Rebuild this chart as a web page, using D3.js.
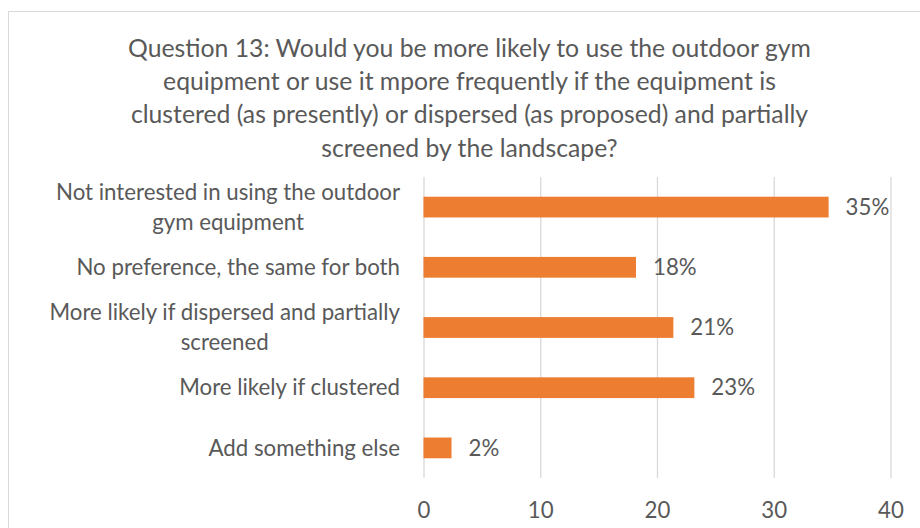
<!DOCTYPE html>
<html>
<head>
<meta charset="utf-8">
<script src="https://cdn.jsdelivr.net/npm/d3@7"></script>
<style>
  html, body { margin: 0; padding: 0; background: #fff; }
  text { font-family: Lato, "Liberation Sans", sans-serif; fill: #595959; }
</style>
</head>
<body>
<svg id="chart" width="920" height="528"></svg>
<script>
// chart data
const titleLines = [
  "Question 13: Would you be more likely to use the outdoor gym",
  "equipment or use it mpore frequently if the equipment is",
  "clustered (as presently) or dispersed (as proposed) and partially",
  "screened by the landscape?"
];
const categories = [
  "Not interested in using the outdoor\ngym equipment",
  "No preference, the same for both",
  "More likely if dispersed and partially\nscreened",
  "More likely if clustered",
  "Add something else"
];
const values = [34.7, 18.2, 21.4, 23.2, 2.4];
const xTicks = [0, 10, 20, 30, 40];

const W = 920, H = 528;
const plot = {left: 423.5, right: 890.5, top: 177, bottom: 478};
const textColor = "#595959", gridColor = "#d9d9d9", barColor = "#ED7D31";

const svg = d3.select("#chart");

svg.append("rect")
  .attr("x", 8.5).attr("y", 11.5)
  .attr("width", W).attr("height", H)
  .attr("fill", "#fff").attr("stroke", gridColor);

// measure text width at a given size
function textWidth(str, size) {
  const t = svg.append("text").attr("font-size", size).text(str);
  const w = t.node().getComputedTextLength();
  t.remove();
  return w;
}
// fit a font size so a text hits a target width
function fitSize(str, target, base) {
  return base * target / textWidth(str, base);
}

const titleSize = fitSize(titleLines[0], 683, 24);
const labelSize = fitSize(categories[0].split("\n")[0], 344, 22);

svg.append("g").selectAll("text")
  .data(titleLines)
  .join("text")
    .attr("x", 469.5)
    .attr("y", (d, i) => 48 + i * 33.3)
    .attr("dy", "0.35em")
    .attr("text-anchor", "middle")
    .attr("font-size", titleSize)
    .text(d => d);

const x = d3.scaleLinear().domain([0, 40]).range([plot.left, plot.right]);
const y = d3.scaleBand().domain(categories)
  .range([plot.top, plot.bottom])
  .paddingInner(0.655).paddingOuter(0.3275);

// gridlines + x axis labels
const xAxis = svg.append("g")
  .attr("transform", `translate(0,${plot.bottom})`)
  .call(d3.axisBottom(x).tickValues(xTicks).tickSize(-(plot.bottom - plot.top)).tickPadding(24));
xAxis.select(".domain").remove();
xAxis.selectAll(".tick line").attr("stroke", gridColor).attr("stroke-width", 1.3);
xAxis.selectAll(".tick text")
  .attr("font-size", labelSize)
  .attr("fill", textColor)
  .attr("font-family", "Lato, 'Liberation Sans', sans-serif");

// bars
svg.append("g").selectAll("rect")
  .data(values)
  .join("rect")
    .attr("x", x(0))
    .attr("y", (d, i) => y(categories[i]))
    .attr("width", d => x(d) - x(0))
    .attr("height", y.bandwidth())
    .attr("fill", barColor);

// value labels
svg.append("g").selectAll("text")
  .data(values)
  .join("text")
    .attr("x", d => x(d) + 17)
    .attr("y", (d, i) => y(categories[i]) + y.bandwidth() / 2)
    .attr("dy", "0.35em")
    .attr("font-size", labelSize)
    .text(d => Math.round(d) + "%");

// category labels: block right-aligned at 400, lines centred within block
const labelRight = 400, lh = 30;
const catG = svg.append("g").selectAll("text")
  .data(categories)
  .join("text")
    .attr("text-anchor", "middle")
    .attr("font-size", labelSize)
    .attr("y", d => y(d) + y.bandwidth() / 2);
catG.each(function(d) {
  const lines = d.split("\n");
  const blockW = d3.max(lines, l => textWidth(l, labelSize));
  const cx = labelRight - blockW / 2;
  d3.select(this).selectAll("tspan")
    .data(lines)
    .join("tspan")
      .attr("x", cx)
      .attr("dy", (l, i) => i === 0 ? (0.35 * labelSize - (lines.length - 1) * lh / 2) : lh)
      .text(l => l);
});
</script>
</body>
</html>
